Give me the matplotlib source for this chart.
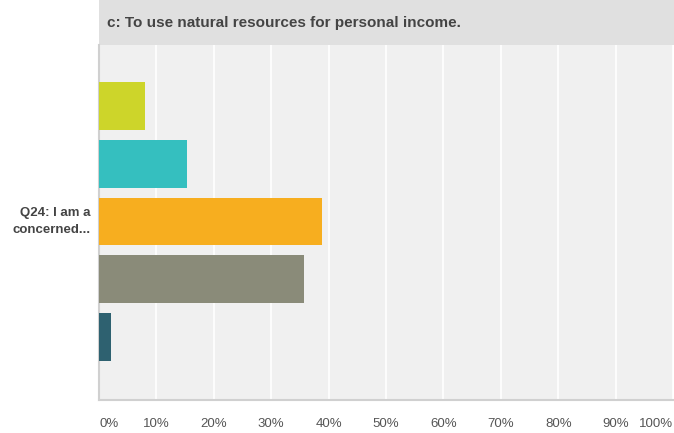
import numpy as np
import matplotlib
matplotlib.use("Agg")
from matplotlib import pyplot as plt

plt.rcParams['font.family'] = ['Liberation Sans', 'DejaVu Sans']

title = "c: To use natural resources for personal income."
question = "Q24: I am a\nconcerned..."
values = [8.0, 15.3, 38.9, 35.7, 2.1]
colors = ['#cdd52a', '#35bfbf', '#f7ae1f', '#8a8b79', '#2e6170']
ticks = [0, 10, 20, 30, 40, 50, 60, 70, 80, 90, 100]
tick_labels = ['%d%%' % t for t in ticks]

W, H = 674, 433
fig = plt.figure(figsize=(W / 100, H / 100), dpi=100)

# header band
hdr = fig.add_axes([99 / W, 1 - 45 / H, 575 / W, 45 / H])
hdr.set_facecolor('#e0e0e0')
hdr.set_xticks([])
hdr.set_yticks([])
for s in hdr.spines.values():
    s.set_visible(False)
hdr.text(8 / 575, 0.5, title, transform=hdr.transAxes, fontsize=11,
         fontweight='bold', color='#444444', va='center', ha='left')

ax = fig.add_axes([99 / W, 1 - 400 / H, 574 / W, 355 / H])
ax.set_facecolor('#f0f0f0')
y = np.arange(len(values))
ax.barh(y, values, height=0.83, color=colors, zorder=3)
ax.set_xlim(0, 100)
ax.set_ylim(5.09, -1.056)
ax.set_xticks(ticks)
ax.xaxis.grid(True, color='white', linewidth=1.2, zorder=1)
ax.set_yticks([])
ax.tick_params(axis='x', length=0, pad=13, labelsize=9.5, colors='#555555')
ax.set_xticklabels(tick_labels)
lbls = ax.get_xticklabels()
lbls[0].set_ha('left')
lbls[-1].set_ha('right')
for s in ['top', 'right']:
    ax.spines[s].set_visible(False)
ax.spines['left'].set_color('#d0d0d0')
ax.spines['bottom'].set_color('#d0d0d0')
ax.spines['left'].set_linewidth(1.5)
ax.spines['bottom'].set_linewidth(1.5)

ax.text(-0.014, 2, question, transform=ax.get_yaxis_transform(), ha='right',
        va='center', fontsize=9.5, fontweight='bold', color='#444444',
        linespacing=1.55)

fig.savefig('out.png', dpi=100)
